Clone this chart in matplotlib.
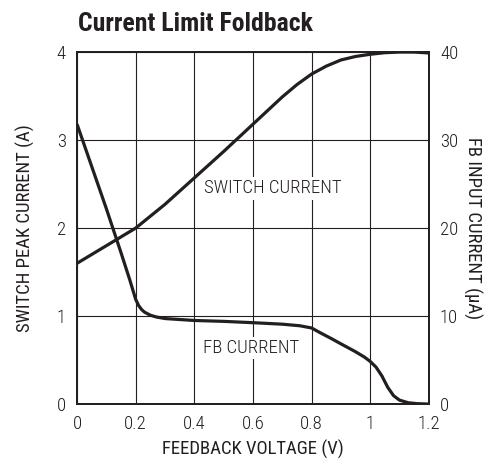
import matplotlib
matplotlib.use('Agg')
import matplotlib.pyplot as plt
from matplotlib import font_manager

# 
# fonts: condensed look if available
# 
names = set(f.name for f in font_manager.fontManager.ttflist)
fam = 'Roboto Condensed' if 'Roboto Condensed' in names else 'DejaVu Sans'
plt.rcParams['font.family'] = [fam, 'DejaVu Sans']
plt.rcParams['font.weight'] = 'light'

# 
# data
# 
sw_v = [0.0, 0.2, 0.3, 0.4, 0.5, 0.6, 0.7, 0.75, 0.8, 0.85, 0.9, 0.95, 1.0, 1.05, 1.1, 1.15, 1.2]
sw_i = [1.6, 2.0, 2.27, 2.57, 2.87, 3.18, 3.49, 3.63, 3.75, 3.84, 3.91, 3.95, 3.975, 3.993, 4.0, 4.0, 3.99]

fb_v = [0.0, 0.05, 0.1, 0.15, 0.18, 0.19, 0.2, 0.21, 0.22, 0.23, 0.25, 0.27, 0.3, 0.4, 0.5, 0.6,
        0.7, 0.76, 0.8, 0.83, 0.87, 0.9, 0.95, 0.98, 1.0, 1.02, 1.04, 1.06, 1.08, 1.1, 1.13, 1.16, 1.2]
fb_i = [31.8, 27.0, 22.2, 17.2, 14.1, 13.0, 11.9, 11.2, 10.75, 10.45, 10.1, 9.9, 9.72, 9.5, 9.4, 9.25,
        9.08, 8.9, 8.65, 8.1, 7.4, 6.85, 5.95, 5.35, 4.85, 4.2, 3.2, 1.9, 0.95, 0.45, 0.15, 0.05, 0.0]

x_ticks = [0, 0.2, 0.4, 0.6, 0.8, 1.0, 1.2]
x_labels = ['0', '0.2', '0.4', '0.6', '0.8', '1', '1.2']
yl_ticks = [0, 1, 2, 3, 4]
yr_ticks = [0, 10, 20, 30, 40]

ink = '#231f20'
fs = 13.5

# 
# figure
# 
fig = plt.figure(figsize=(4.94, 4.65), dpi=100)
ax = fig.add_axes([0.156, 0.131, 0.712, 0.757])
ax2 = ax.twinx()

ax.set_xlim(0, 1.2)
ax.set_ylim(0, 4)
ax2.set_ylim(0, 40)

ax.set_xticks(x_ticks)
ax.set_xticklabels(x_labels)
ax.set_yticks(yl_ticks)
ax2.set_yticks(yr_ticks)
ax.grid(True, color=ink, lw=0.8)
ax.tick_params(length=0, labelsize=fs, pad=8, colors=ink)
ax2.tick_params(length=0, labelsize=fs, pad=8, colors=ink)
for a in (ax, ax2):
    for s in a.spines.values():
        s.set_linewidth(1.3)
        s.set_color(ink)

ax.plot(sw_v, sw_i, color=ink, lw=2.3, solid_capstyle='butt', zorder=3)
ax2.plot(fb_v, fb_i, color=ink, lw=2.3, solid_capstyle='butt', zorder=3)

box = dict(facecolor='white', edgecolor='none', pad=1.5)
ax.text(0.668, 2.45, 'SWITCH CURRENT', ha='center', va='center', fontsize=fs,
        color=ink, bbox=box, zorder=2)
ax.text(0.594, 0.636, 'FB CURRENT', ha='center', va='center', fontsize=fs,
        color=ink, bbox=box, zorder=2)

ax.set_xlabel('FEEDBACK VOLTAGE (V)', fontsize=fs, color=ink, labelpad=5)
ax.set_ylabel('SWITCH PEAK CURRENT (A)', fontsize=fs, color=ink, labelpad=16)
ax2.set_ylabel('FB INPUT CURRENT (\u00b5A)', fontsize=fs, color=ink, rotation=-90,
               labelpad=17)

fig.text(0.158, 0.949, 'Current Limit Foldback', fontsize=18.5, fontweight='bold',
         color=ink, ha='left', va='center')

fig.savefig('out.png', dpi=100)
